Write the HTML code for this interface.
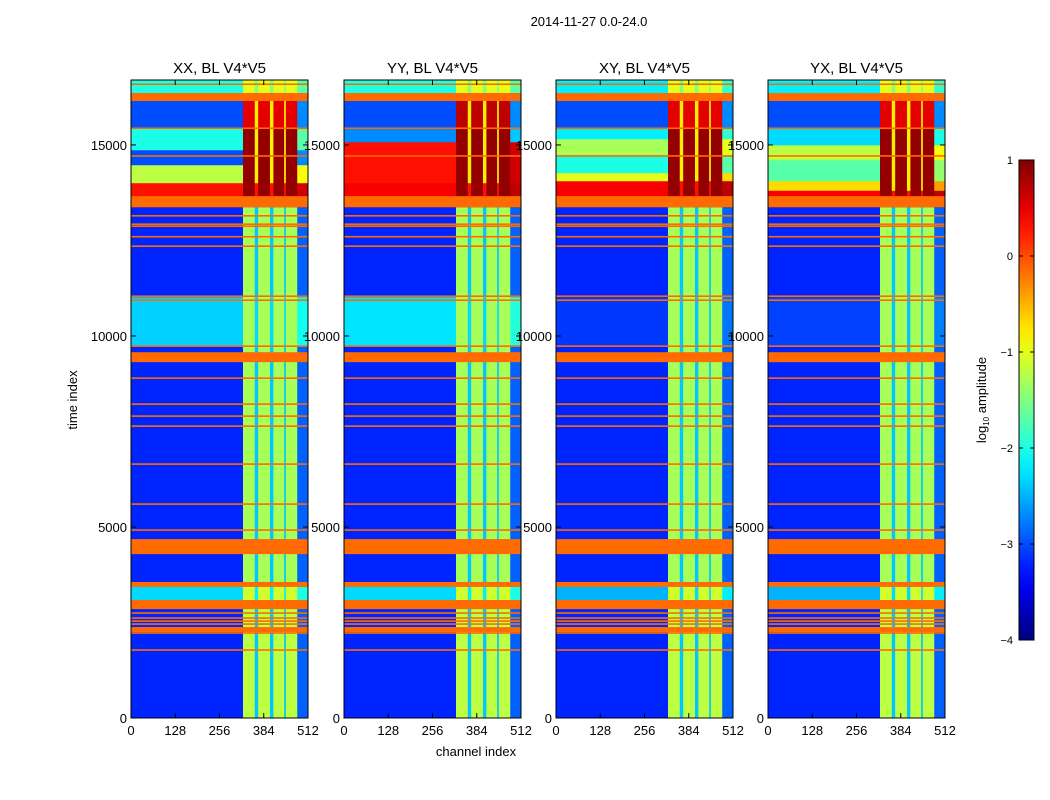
<!DOCTYPE html>
<html><head><meta charset="utf-8">
<style>
html,body{margin:0;padding:0;background:#fff;}
svg{display:block;font-family:"Liberation Sans",sans-serif;}
</style></head>
<body>
<svg id="chart" width="1050" height="800" viewBox="0 0 1050 800">
<text x="589" y="26" text-anchor="middle" font-size="13">2014-11-27 0.0-24.0</text>
<text x="476" y="756" text-anchor="middle" font-size="13">channel index</text>
<text transform="translate(77,400) rotate(-90)" text-anchor="middle" font-size="13">time index</text>
<g id="panels"></g>
<g id="cbar"></g>
</svg>
<script>
const panelTitles = ["XX, BL V4*V5","YY, BL V4*V5","XY, BL V4*V5","YX, BL V4*V5"];
const xTicks = [0,128,256,384,512];
const yTicks = [0,5000,10000,15000];
const cbTicks = [1,0,-1,-2,-3,-4];
// segments: [t0, t1, continuum log-amp, stripe log-amp, gap log-amp]
const segXX = [[16353,16700,-2.0,-1.0,-1.5],[15437,16170,-3.0,0.5,-0.8],[14861,15437,-2.0,0.9,-0.8],[14469,14861,-3.0,0.9,-0.8],[13998,14469,-1.2,0.9,-0.8],[13370,13998,0.3,0.9,0.3],[11015,13370,-3.2,-1.3,-2.4],[9733,11015,-2.35,-1.3,-2.3],[3480,9733,-3.2,-1.3,-2.4],[3087,3480,-2.3,-1.1,-2.2],[0,3087,-3.2,-1.2,-2.4]];
const segYY = [[16353,16700,-2.0,-1.0,-1.5],[15437,16170,-3.0,0.7,-0.8],[15070,15437,-2.7,0.9,-0.8],[13998,15070,0.3,0.9,-0.8],[13370,13998,0.4,0.9,0.3],[11015,13370,-3.2,-1.3,-2.4],[9733,11015,-2.25,-1.3,-2.3],[3480,9733,-3.2,-1.3,-2.4],[3087,3480,-2.3,-1.1,-2.2],[0,3087,-3.2,-1.2,-2.4]];
const segXY = [[16353,16700,-2.2,-1.0,-1.5],[15437,16170,-3.0,0.5,-0.8],[15150,15437,-2.2,0.9,-0.8],[14730,15150,-1.3,0.9,-0.8],[14260,14730,-2.0,0.9,-0.8],[14050,14260,-1.0,0.9,-0.8],[13370,14050,0.4,0.9,0.3],[11015,13370,-3.2,-1.3,-2.4],[9733,11015,-3.1,-1.3,-2.4],[3480,9733,-3.2,-1.3,-2.4],[3087,3480,-2.5,-1.1,-2.3],[0,3087,-3.2,-1.2,-2.4]];
const segYX = [[16353,16700,-2.2,-1.0,-1.5],[15437,16170,-3.0,0.5,-0.8],[14990,15437,-2.3,0.9,-0.8],[14600,14990,-1.2,0.9,-0.8],[14050,14600,-1.7,0.9,-0.8],[13800,14050,-0.7,0.9,-0.8],[13370,13800,0.4,0.9,0.3],[11015,13370,-3.2,-1.3,-2.4],[9733,11015,-3.05,-1.3,-2.4],[3480,9733,-3.2,-1.3,-2.4],[3087,3480,-2.5,-1.1,-2.3],[0,3087,-3.2,-1.2,-2.4]];
const panelSegs = [segXX, segYY, segXY, segYX];
const flagThick = [[16150,16360],[13370,13660],[9315,9575],[4290,4683],[3430,3560],[2850,3090],[2250,2380]];
const flagLines = [16589,15437,14712,13145,12925,12873,12598,12350,11041,10936,9733,8896,8216,7902,7640,6646,5599,4919,2747,2616,2538,2459,2224,1779];
const flagValue = -0.15;
const stripeRanges = [[324,358],[367,402],[411,443],[447,480]];
const gapRanges = [[358,367],[402,411],[443,447]];
const edgeRanges = [[0,324],[480,512]];

const panelLeft = [131,344,556,768], panelW = 177, yTop = 80, yBot = 718, tMax = 16700;
const NS = "http://www.w3.org/2000/svg";
function jet(v){
  let x = Math.max(0,Math.min(1,(v+4)/5));
  const f=(a)=>Math.max(0,Math.min(1,a));
  const r=f(1.5-Math.abs(4*x-3)), g=f(1.5-Math.abs(4*x-2)), b=f(1.5-Math.abs(4*x-1));
  return `rgb(${Math.round(r*255)},${Math.round(g*255)},${Math.round(b*255)})`;
}
function mk(tag, attrs, parent){const e=document.createElementNS(NS,tag);for(const k in attrs)e.setAttribute(k,attrs[k]);parent.appendChild(e);return e;}
const yS = t => yBot - t*(yBot-yTop)/tMax;
const panelsG = document.getElementById('panels');
panelSegs.forEach((segs,p)=>{
  const L = panelLeft[p];
  const xS = c => L + c*panelW/512;
  const g = mk('g',{},panelsG);
  
  
  segs.forEach(s=>{
    const y0=yS(s[1]), y1=yS(s[0]);
    edgeRanges.forEach((r,i)=>{
      const e=mk('rect',{x:xS(r[0]),y:y0,width:xS(r[1])-xS(r[0])+0.3,height:y1-y0+0.3,fill:jet(s[2]+(i?0.3:0))},g);
      
      
    });
    stripeRanges.forEach(r=>{
      const e=mk('rect',{x:xS(r[0]),y:y0,width:xS(r[1])-xS(r[0])+0.3,height:y1-y0+0.3,fill:jet(s[3])},g);
      
      
    });
    gapRanges.forEach(r=>{
      const e=mk('rect',{x:xS(r[0]),y:y0,width:xS(r[1])-xS(r[0])+0.3,height:y1-y0+0.3,fill:jet(s[4])},g);
      
      
    });
  });
  flagThick.forEach(f=>{
    const e=mk('rect',{x:L,y:yS(f[1]),width:panelW,height:yS(f[0])-yS(f[1]),fill:jet(flagValue)},g);
    
    
  });
  flagLines.forEach(t=>{
    const e=mk('rect',{x:L,y:yS(t)-0.8,width:panelW,height:1.6,fill:jet(flagValue)},g);
    
    
  });
  const fr=mk('rect',{x:L,y:yTop,width:panelW,height:yBot-yTop,fill:'none',stroke:'#000','stroke-width':1},g);
  
  
  const tt=mk('text',{x:L+panelW/2,y:73,'text-anchor':'middle','font-size':15},g);
  tt.textContent=panelTitles[p];
  
  
  xTicks.forEach(c=>{
    mk('line',{x1:xS(c),x2:xS(c),y1:yBot,y2:yBot-5,stroke:'#000'},g);
    mk('line',{x1:xS(c),x2:xS(c),y1:yTop,y2:yTop+5,stroke:'#000'},g);
    const t=mk('text',{x:xS(c),y:yBot+17,'text-anchor':'middle','font-size':13},g);
    t.textContent=c;
    
    
  });
  yTicks.forEach(v=>{
    mk('line',{x1:L,x2:L+5,y1:yS(v),y2:yS(v),stroke:'#000'},g);
    mk('line',{x1:L+panelW,x2:L+panelW-5,y1:yS(v),y2:yS(v),stroke:'#000'},g);
    const t=mk('text',{x:L-4,y:yS(v)+5,'text-anchor':'end','font-size':13},g);
    t.textContent=v;
    
    
  });
});
const cb=document.getElementById('cbar');
const cbX=1019, cbW=15, cbTop=160, cbBot=640;
const cbS = v => cbBot - (v+4)*(cbBot-cbTop)/5;
const defs=mk('defs',{},cb);
const grad=mk('linearGradient',{id:'jetg',x1:0,y1:1,x2:0,y2:0},defs);
for(let i=0;i<=20;i++){mk('stop',{offset:i/20,'stop-color':jet(-4+5*i/20)},grad);}
const bar=mk('rect',{x:cbX,y:cbTop,width:cbW,height:cbBot-cbTop,fill:'url(#jetg)',stroke:'#000'},cb);


cbTicks.forEach(v=>{
  mk('line',{x1:cbX,x2:cbX+4,y1:cbS(v),y2:cbS(v),stroke:'#000'},cb);
  mk('line',{x1:cbX+cbW,x2:cbX+cbW-4,y1:cbS(v),y2:cbS(v),stroke:'#000'},cb);
  const t=mk('text',{x:1013,y:cbS(v)+4,'text-anchor':'end','font-size':11},cb);
  t.textContent=(v<0?'\u2212'+(-v):v);
  
  
});
const cl=mk('text',{transform:'translate(986,400) rotate(-90)','text-anchor':'middle','font-size':13},cb);
cl.innerHTML='log<tspan font-size="8" dy="3">10</tspan><tspan dy="-3"> amplitude</tspan>';


</script>
</body></html>
